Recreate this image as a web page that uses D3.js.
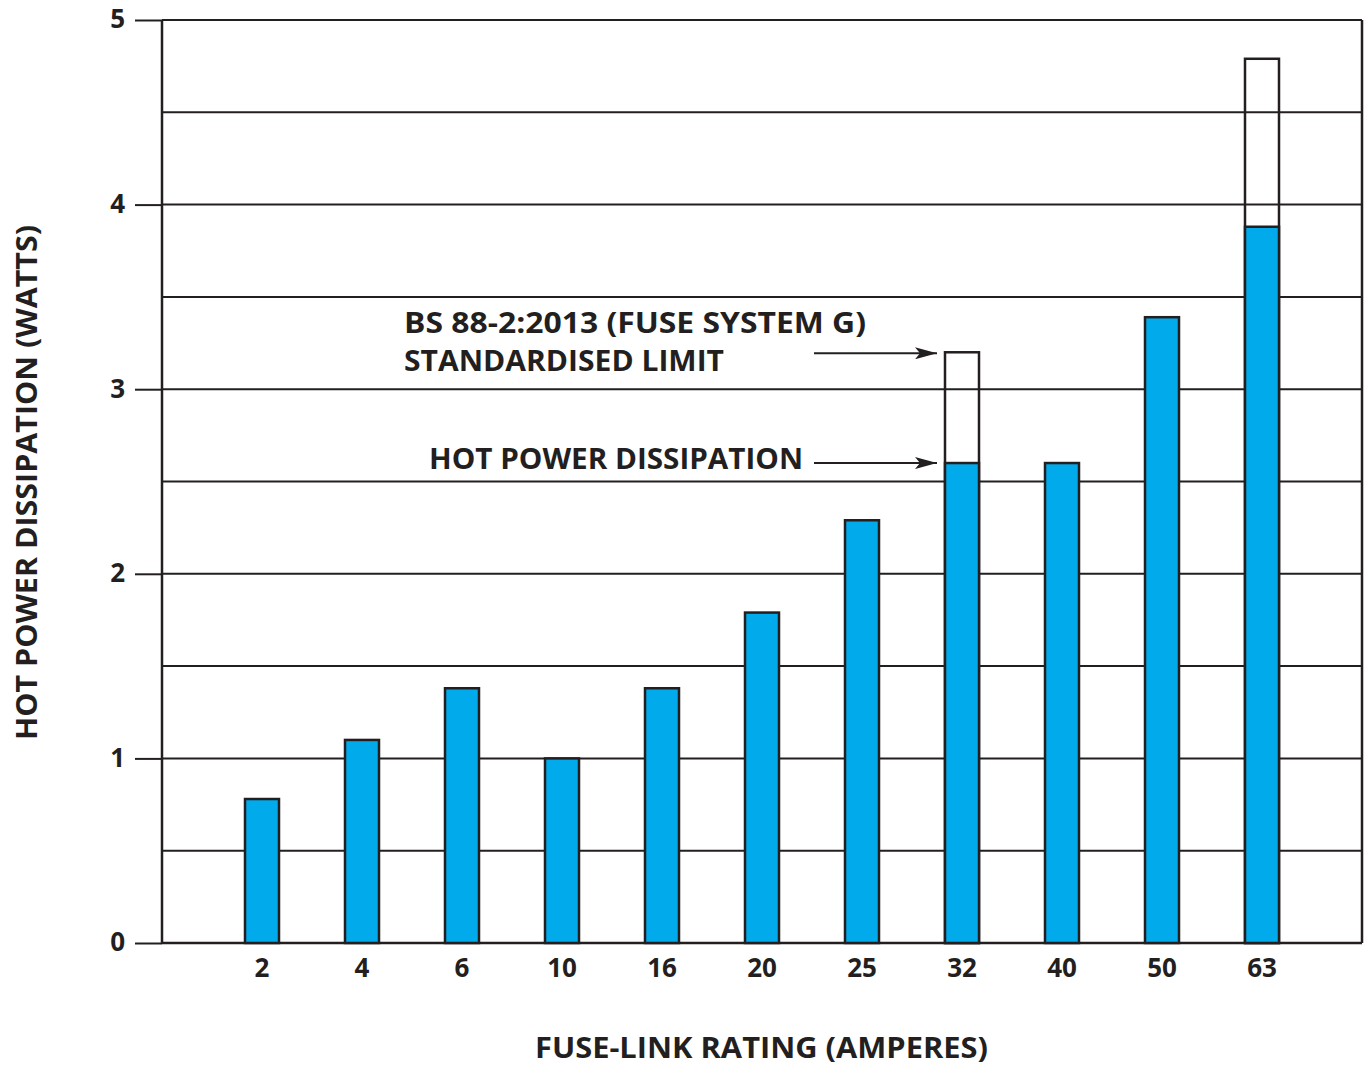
<!DOCTYPE html>
<html>
<head>
<meta charset="utf-8">
<script src="https://cdn.jsdelivr.net/npm/d3@7"></script>
<style>
  body { margin: 0; background: #fff; }
  svg text { font-family: "Open Sans", "Noto Sans", sans-serif; font-weight: 700; fill: #231f20; }
</style>
</head>
<body>
<svg id="chart" width="1365" height="1065"></svg>
<script>
// Fuse-link ratings and hot power dissipation (watts)
const ratings = ['2', '4', '6', '10', '16', '20', '25', '32', '40', '50', '63'];
const dissipation = [0.78, 1.1, 1.38, 1.0, 1.38, 1.79, 2.29, 2.6, 2.6, 3.39, 3.88];
// standardised limit only shown for two ratings
const limitRatings = ['32', '63'];
const limitValues = [3.2, 4.79];
const yTicks = [0, 1, 2, 3, 4, 5];
const gridLines = [0.5, 1, 1.5, 2, 2.5, 3, 3.5, 4, 4.5, 5];

const margin = { top: 20, right: 3, bottom: 122, left: 162 };
const width = 1365, height = 1065;
const ink = '#231f20';

const svg = d3.select('#chart');

const x = d3.scalePoint()
  .domain(ratings)
  .range([margin.left, width - margin.right])
  .padding(1);

const y = d3.scaleLinear()
  .domain([0, 5])
  .range([height - margin.bottom, margin.top]);

const barW = 34;

function drawGrid() {
  svg.append('g')
    .selectAll('line')
    .data(gridLines)
    .enter().append('line')
    .attr('x1', margin.left)
    .attr('x2', width - margin.right)
    .attr('y1', d => y(d))
    .attr('y2', d => y(d))
    .attr('stroke', ink)
    .attr('stroke-width', 2);
}

// Left axis with ticks pointing out
const yAxis = svg.append('g')
  .attr('transform', `translate(${margin.left},0)`)
  .call(d3.axisLeft(y).tickValues(yTicks).tickSize(27).tickPadding(10).tickFormat(d3.format('d')));
yAxis.select('.domain').remove();
yAxis.selectAll('.tick line').attr('stroke', ink).attr('stroke-width', 2);
yAxis.selectAll('.tick text')
  .attr('font-size', 26)
  .attr('dy', '0.3em')
  .attr('font-family', null)
  .style('fill', ink);

// Limit outlines (white boxes behind the grid)
svg.append('g')
  .selectAll('rect')
  .data(limitRatings.map((r, i) => ({ r, v: limitValues[i] })))
  .enter().append('rect')
  .attr('x', d => x(d.r) - barW / 2)
  .attr('y', d => y(d.v))
  .attr('width', barW)
  .attr('height', d => y(0) - y(d.v))
  .attr('fill', '#fff')
  .attr('stroke', ink)
  .attr('stroke-width', 2.5);

drawGrid();

// Plot frame (left, right, bottom)
[[margin.left, y(5), margin.left, y(0)],
 [width - margin.right, y(5), width - margin.right, y(0)],
 [margin.left, y(0), width - margin.right, y(0)]].forEach(s => {
  svg.append('line')
    .attr('x1', s[0]).attr('y1', s[1])
    .attr('x2', s[2]).attr('y2', s[3])
    .attr('stroke', ink).attr('stroke-width', 2.5);
});

// Bars
svg.append('g')
  .selectAll('rect')
  .data(ratings.map((r, i) => ({ r, v: dissipation[i] })))
  .enter().append('rect')
  .attr('x', d => x(d.r) - barW / 2)
  .attr('y', d => y(d.v))
  .attr('width', barW)
  .attr('height', d => y(0) - y(d.v))
  .attr('fill', '#00aaeb')
  .attr('stroke', ink)
  .attr('stroke-width', 2.5);

// X tick labels
svg.append('g')
  .selectAll('text')
  .data(ratings)
  .enter().append('text')
  .attr('x', d => x(d))
  .attr('y', y(0) + 34)
  .attr('text-anchor', 'middle')
  .attr('font-size', 26)
  .text(d => d);

// Axis titles
svg.append('text')
  .attr('x', 535)
  .attr('y', 1058)
  .attr('font-size', 28)
  .attr('textLength', 453)
  .attr('lengthAdjust', 'spacingAndGlyphs')
  .text('FUSE-LINK RATING (AMPERES)');

svg.append('text')
  .attr('transform', 'translate(37,740) rotate(-90)')
  .attr('font-size', 28)
  .attr('textLength', 515)
  .attr('lengthAdjust', 'spacingAndGlyphs')
  .text('HOT POWER DISSIPATION (WATTS)');

// Annotations with arrows
svg.append('defs').append('marker')
  .attr('id', 'arrow')
  .attr('viewBox', '0 0 22 12')
  .attr('refX', 22).attr('refY', 6)
  .attr('markerWidth', 22).attr('markerHeight', 12)
  .attr('markerUnits', 'userSpaceOnUse')
  .attr('orient', 'auto')
  .append('path')
  .attr('d', 'M0,0 L22,6 L0,12 L5,6 Z')
  .attr('fill', ink);

const tipX = x('32') - barW / 2 - 8;

function label(txt, lx, ly, len) {
  svg.append('text')
    .attr('x', lx).attr('y', ly)
    .attr('font-size', 28)
    .attr('textLength', len)
    .attr('lengthAdjust', 'spacingAndGlyphs')
    .text(txt);
}

label('BS 88-2:2013 (FUSE SYSTEM G)', 404, 333, 462);
label('STANDARDISED LIMIT', 404, 371, 320);
label('HOT POWER DISSIPATION', 429, 469, 374);

svg.append('line')
  .attr('x1', 814).attr('x2', tipX)
  .attr('y1', y(3.2) + 1).attr('y2', y(3.2) + 1)
  .attr('stroke', ink).attr('stroke-width', 2)
  .attr('marker-end', 'url(#arrow)');

svg.append('line')
  .attr('x1', 814).attr('x2', tipX)
  .attr('y1', y(2.6)).attr('y2', y(2.6))
  .attr('stroke', ink).attr('stroke-width', 2)
  .attr('marker-end', 'url(#arrow)');
</script>
</body>
</html>
